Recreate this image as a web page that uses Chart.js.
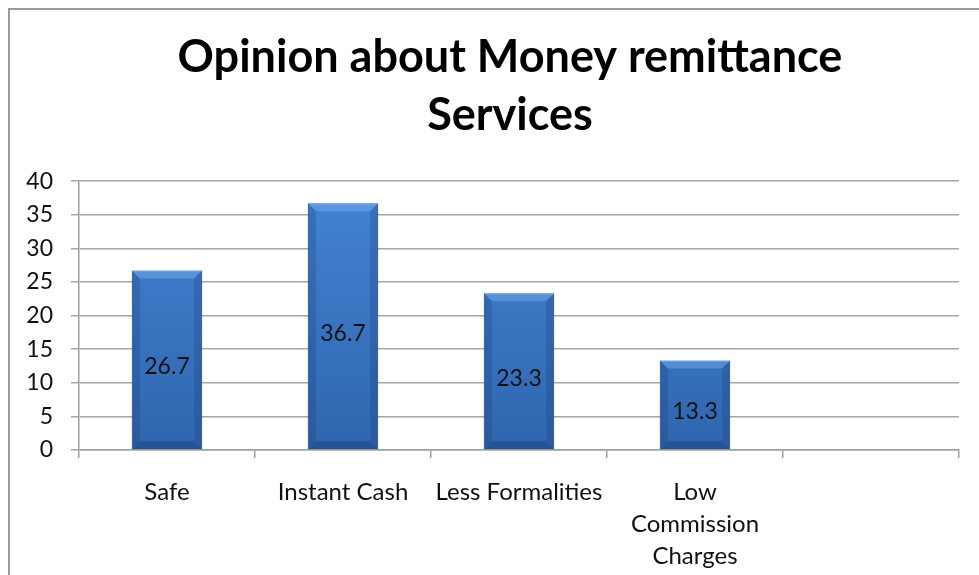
<!DOCTYPE html>
<html>
<head>
<meta charset="utf-8">
<script src="https://cdn.jsdelivr.net/npm/chart.js@4"></script>
<style>
  html, body { margin: 0; padding: 0; background: #fff; }
  #wrap { position: relative; width: 979px; height: 575px; }
  #frame { position: absolute; left: 8px; top: 8px; right: 0; bottom: 0;
           border-top: 2px solid #9a9a9a; border-left: 2px solid #9a9a9a; pointer-events: none; }
</style>
</head>
<body>
<div id="wrap">
  <canvas id="opinionChart" width="979" height="575"></canvas>
  <div id="frame"></div>
</div>
<script>
// Opinion about money remittance services (%)
let labelOpinion = ['Safe', 'Instant Cash', 'Less Formalities', ['Low', 'Commission', 'Charges'], ''];
let nilaiOpinion = [26.7, 36.7, 23.3, 13.3, null];
let tickY = [0, 5, 10, 15, 20, 25, 30, 35, 40];

const fontFam = 'Lato, "Open Sans", sans-serif';

// title centred over the plot area instead of the whole canvas
const titleShift = {
  id: 'titleShift',
  afterLayout(chart) {
    if (chart.titleBlock) chart.titleBlock.left = chart.chartArea.left - 18;
  }
};

// value text in the middle of each bar + bevel shading on the bars
const barLook = {
  id: 'barLook',
  afterDatasetsDraw(chart) {
    const ctx = chart.ctx;
    const meta = chart.getDatasetMeta(0);
    meta.data.forEach((bar, i) => {
      const v = nilaiOpinion[i];
      if (v == null) return;
      const left = bar.x - bar.width / 2, right = bar.x + bar.width / 2;
      const top = bar.y, bottom = bar.base;
      const b = 8;
      ctx.save();
      // top bevel
      ctx.fillStyle = 'rgba(120,175,235,0.45)';
      ctx.beginPath();
      ctx.moveTo(left, top); ctx.lineTo(right, top);
      ctx.lineTo(right - b, top + b); ctx.lineTo(left + b, top + b);
      ctx.closePath(); ctx.fill();
      // side bevels
      ctx.fillStyle = 'rgba(20,50,110,0.22)';
      ctx.beginPath();
      ctx.moveTo(left, top); ctx.lineTo(left + b, top + b);
      ctx.lineTo(left + b, bottom - b); ctx.lineTo(left, bottom);
      ctx.closePath(); ctx.fill();
      ctx.beginPath();
      ctx.moveTo(right, top); ctx.lineTo(right - b, top + b);
      ctx.lineTo(right - b, bottom - b); ctx.lineTo(right, bottom);
      ctx.closePath(); ctx.fill();
      // bottom bevel
      ctx.fillStyle = 'rgba(15,40,95,0.28)';
      ctx.beginPath();
      ctx.moveTo(left, bottom); ctx.lineTo(right, bottom);
      ctx.lineTo(right - b, bottom - b); ctx.lineTo(left + b, bottom - b);
      ctx.closePath(); ctx.fill();
      // label
      ctx.fillStyle = '#111';
      ctx.font = '23px ' + fontFam;
      ctx.textAlign = 'center';
      ctx.textBaseline = 'middle';
      ctx.fillText(v.toFixed(1), bar.x, (top + bottom) / 2 + 7);
      ctx.restore();
    });
  }
};

let kanvas = document.getElementById('opinionChart');
let grafik = new Chart(kanvas, {
  type: 'bar',
  data: {
    labels: labelOpinion,
    datasets: [{
      label: 'Opinion',
      data: nilaiOpinion,
      backgroundColor: (c) => {
        const area = c.chart.chartArea;
        if (!area) return '#3a76c4';
        const g = c.chart.ctx.createLinearGradient(0, area.top, 0, area.bottom);
        g.addColorStop(0, '#4384d4');
        g.addColorStop(1, '#2f65ae');
        return g;
      },
      borderColor: '#2a5592',
      borderWidth: 1,
      barPercentage: 0.8,
      categoryPercentage: 0.5
    }]
  },
  options: {
    responsive: false,
    animation: false,
    layout: { padding: { left: 0, right: 20, top: 0, bottom: 0 } },
    plugins: {
      legend: { display: false },
      tooltip: { enabled: false },
      title: {
        display: true,
        text: ['Opinion about Money remittance', 'Services'],
        color: '#000',
        font: { family: fontFam, size: 45, weight: 'bold', lineHeight: 1.29 },
        padding: { top: 28, bottom: 37 }
      }
    },
    scales: {
      x: {
        afterFit: (s) => { s.height = 125; },
        grid: { drawOnChartArea: false, drawTicks: true, tickLength: 8, color: '#a0a0a0', lineWidth: 1.5 },
        border: { color: '#a0a0a0', width: 1.5 },
        ticks: { color: '#111', font: { family: fontFam, size: 24, lineHeight: 1.33 }, padding: 18, maxRotation: 0, autoSkip: false }
      },
      y: {
        min: 0, max: 40,
        afterBuildTicks: (s) => { s.ticks = tickY.map(v => ({ value: v })); },
        afterFit: (s) => { s.width = 79; },
        grid: { color: '#a6a6a6', lineWidth: 1.5, tickLength: 8 },
        border: { color: '#a0a0a0', width: 1.5 },
        ticks: { color: '#111', font: { family: fontFam, size: 23 }, padding: 18 }
      }
    }
  },
  plugins: [titleShift, barLook]
});
</script>
</body>
</html>
